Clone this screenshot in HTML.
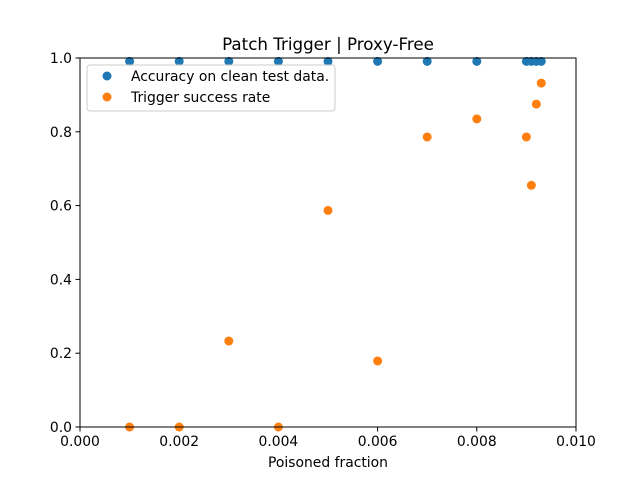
<!DOCTYPE html>
<html><head><meta charset="utf-8"><style>
body{margin:0;background:#fff}
svg{font-family:"DejaVu Sans","Liberation Sans",sans-serif}
</style></head><body>
<svg id="chart" width="640" height="480">
<rect width="640" height="480" fill="#fff"/>
<text x="328" y="50" text-anchor="middle" font-size="16.7">Patch Trigger | Proxy-Free</text>
<g id="ticks"></g>
<g id="marks"></g>
<rect x="80" y="58" width="496" height="369" fill="none" stroke="#000" stroke-width="1"/>
<text x="328" y="467" text-anchor="middle" font-size="13.9">Poisoned fraction</text>
<g>
<rect x="87" y="65" width="248" height="46" rx="3" fill="#fff" fill-opacity="0.8" stroke="#ccc"/>
<circle cx="107" cy="76" r="4.5" fill="#1f77b4"/>
<text x="131" y="81" font-size="13.9">Accuracy on clean test data.</text>
<circle cx="107" cy="97" r="4.5" fill="#ff7f0e"/>
<text x="131" y="102" font-size="13.9">Trigger success rate</text>
</g>
</svg>
<script>
const xValues=[0.001,0.002,0.003,0.004,0.005,0.006,0.007,0.008,0.009,0.0091,0.0092,0.0093];
const accuracy=[0.991,0.991,0.991,0.991,0.991,0.991,0.991,0.991,0.991,0.991,0.991,0.991];
const triggerRate=[0,0,0.233,0,0.587,0.179,0.786,0.835,0.786,0.655,0.875,0.932];
const xTicks=[0,0.002,0.004,0.006,0.008,0.010];
const xTickLabels=["0.000","0.002","0.004","0.006","0.008","0.010"];
const yTicks=[0,0.2,0.4,0.6,0.8,1.0];
const yTickLabels=["0.0","0.2","0.4","0.6","0.8","1.0"];
const NS="http://www.w3.org/2000/svg";
const X=v=>80+v/0.01*496, Y=v=>427-v*369;
const tg=document.getElementById('ticks'), mg=document.getElementById('marks');
function mk(t,a,p){const e=document.createElementNS(NS,t);for(const k in a)e.setAttribute(k,a[k]);p.appendChild(e);return e;}
xTicks.forEach((v,i)=>{
 const l=mk('line',{x1:X(v),x2:X(v),y1:427,y2:431.5,stroke:'#000'},tg);
 
 
 const t=mk('text',{x:X(v),y:446,'text-anchor':'middle','font-size':'13.9'},tg);t.textContent=xTickLabels[i];
 
 
});
yTicks.forEach((v,i)=>{
 const l=mk('line',{x1:75.5,x2:80,y1:Y(v),y2:Y(v),stroke:'#000'},tg);
 
 
 const t=mk('text',{x:72,y:Y(v)+5,'text-anchor':'end','font-size':'13.9'},tg);t.textContent=yTickLabels[i];
 
 
});
xValues.forEach((x,i)=>{
 const c=mk('circle',{cx:X(x),cy:Y(accuracy[i]),r:4.5,fill:'#1f77b4'},mg);
 
 
});
xValues.forEach((x,i)=>{
 const c=mk('circle',{cx:X(x),cy:Y(triggerRate[i]),r:4.5,fill:'#ff7f0e'},mg);
 
 
});
</script>
</body></html>
